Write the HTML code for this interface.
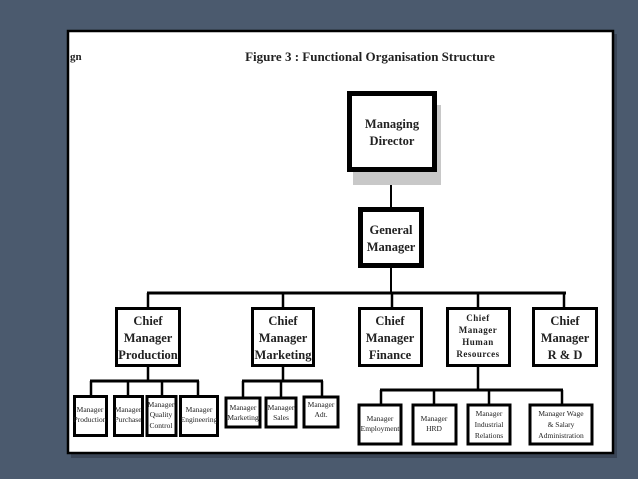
<!DOCTYPE html>
<html><head><style>
html,body{margin:0;padding:0;background:#4b5a6e;width:638px;height:479px;overflow:hidden}
</style></head><body>
<svg width="638" height="479" xmlns="http://www.w3.org/2000/svg" style="position:absolute;left:0;top:0">
<rect x="0" y="0" width="638" height="479" fill="#4b5a6e"/>
<rect x="71" y="34" width="546" height="424" fill="#3a4556"/>
<rect x="68" y="31" width="545" height="422" fill="#fff" stroke="#000" stroke-width="2.5"/>
<g font-family="Liberation Serif, serif" font-weight="bold" fill="#222">
<text x="70" y="60" font-size="11">gn</text>
<text x="370" y="61" font-size="13" text-anchor="middle">Figure 3 : Functional Organisation Structure</text>
</g>
<g stroke="#000" fill="none">
<line x1="391" y1="172" x2="391" y2="207" stroke-width="2"/>
<line x1="391" y1="268" x2="391" y2="293" stroke-width="2"/>
<line x1="147" y1="293" x2="566" y2="293" stroke-width="3"/>
<line x1="148" y1="293" x2="148" y2="307" stroke-width="2.5"/>
<line x1="283" y1="293" x2="283" y2="307" stroke-width="2.5"/>
<line x1="392" y1="293" x2="392" y2="307" stroke-width="2.5"/>
<line x1="478" y1="293" x2="478" y2="307" stroke-width="2.5"/>
<line x1="564" y1="293" x2="564" y2="307" stroke-width="2.5"/>
<!-- production subs -->
<line x1="148" y1="367" x2="148" y2="381" stroke-width="2.5"/>
<line x1="90" y1="381" x2="199" y2="381" stroke-width="3"/>
<line x1="91" y1="381" x2="91" y2="395" stroke-width="2.5"/>
<line x1="128" y1="381" x2="128" y2="395" stroke-width="2.5"/>
<line x1="162" y1="381" x2="162" y2="395" stroke-width="2.5"/>
<line x1="198" y1="381" x2="198" y2="395" stroke-width="2.5"/>
<!-- marketing subs -->
<line x1="283" y1="367" x2="283" y2="381" stroke-width="2.5"/>
<line x1="242" y1="381" x2="323" y2="381" stroke-width="3"/>
<line x1="243" y1="381" x2="243" y2="397" stroke-width="2.5"/>
<line x1="281" y1="381" x2="281" y2="397" stroke-width="2.5"/>
<line x1="322" y1="381" x2="322" y2="397" stroke-width="2.5"/>
<!-- HR subs -->
<line x1="478" y1="367" x2="478" y2="390" stroke-width="2.5"/>
<line x1="380" y1="390" x2="563" y2="390" stroke-width="3"/>
<line x1="381" y1="390" x2="381" y2="404" stroke-width="2.5"/>
<line x1="434" y1="390" x2="434" y2="404" stroke-width="2.5"/>
<line x1="489" y1="390" x2="489" y2="404" stroke-width="2.5"/>
<line x1="562" y1="390" x2="562" y2="404" stroke-width="2.5"/>
</g>
<rect x="353" y="105" width="88" height="80" fill="#c8c8c8"/>
<rect x="349.5" y="93.5" width="85" height="76" fill="#fff" stroke="#000" stroke-width="5"/>
<rect x="360.5" y="209.5" width="61" height="56" fill="#fff" stroke="#000" stroke-width="5"/>
<g fill="#fff" stroke="#000" stroke-width="3">
<rect x="116.5" y="308.5" width="63" height="57"/>
<rect x="252.5" y="308.5" width="61" height="57"/>
<rect x="359.5" y="308.5" width="62" height="57"/>
<rect x="447.5" y="308.5" width="62" height="57"/>
<rect x="533.5" y="308.5" width="63" height="57"/>
<rect x="74.5" y="396.5" width="32" height="39"/>
<rect x="114.5" y="396.5" width="28" height="39"/>
<rect x="147" y="396.5" width="29" height="39"/>
<rect x="180.5" y="396.5" width="37" height="39"/>
<rect x="226" y="398" width="34" height="29"/>
<rect x="266" y="398" width="30" height="29"/>
<rect x="304" y="397" width="34" height="30"/>
<rect x="359" y="405" width="42" height="39"/>
<rect x="413" y="405" width="43" height="39"/>
<rect x="468" y="405" width="42" height="39"/>
<rect x="530" y="405" width="62" height="39"/>
</g>
<g font-family="Liberation Serif, serif" font-weight="bold" fill="#222" text-anchor="middle" font-size="12.5">
<text x="392" y="128">Managing</text><text x="392" y="145">Director</text>
<text x="391" y="234">General</text><text x="391" y="251">Manager</text>
<text x="148" y="325">Chief</text><text x="148" y="342">Manager</text><text x="148" y="359">Production</text>
<text x="283" y="325">Chief</text><text x="283" y="342">Manager</text><text x="283" y="359">Marketing</text>
<text x="390" y="325">Chief</text><text x="390" y="342">Manager</text><text x="390" y="359">Finance</text>
<text x="565" y="325">Chief</text><text x="565" y="342">Manager</text><text x="565" y="359">R &amp; D</text>
<g font-size="9" letter-spacing="0.5">
<text x="478" y="321">Chief</text><text x="478" y="333">Manager</text><text x="478" y="345">Human</text><text x="478" y="357">Resources</text>
</g>
</g>
<g font-family="Liberation Serif, serif" fill="#222" text-anchor="middle" font-size="7.5">
<text x="90" y="412">Manager</text><text x="90" y="422">Production</text>
<text x="128" y="412">Manager</text><text x="128" y="422">Purchase</text>
<text x="161" y="407">Manager</text><text x="161" y="417">Quality</text><text x="161" y="428">Control</text>
<text x="199" y="412">Manager</text><text x="199" y="422">Engineering</text>
<text x="243" y="410">Manager</text><text x="243" y="420">Marketing</text>
<text x="281" y="410">Manager</text><text x="281" y="420">Sales</text>
<text x="321" y="407">Manager</text><text x="321" y="417">Adt.</text>
<text x="380" y="421">Manager</text><text x="380" y="431">Employment</text>
<text x="434" y="421">Manager</text><text x="434" y="431">HRD</text>
<text x="489" y="416">Manager</text><text x="489" y="427">Industrial</text><text x="489" y="438">Relations</text>
<text x="561" y="416">Manager Wage</text><text x="561" y="427">&amp; Salary</text><text x="561" y="438">Administration</text>
</g>
</svg>
</body></html>
